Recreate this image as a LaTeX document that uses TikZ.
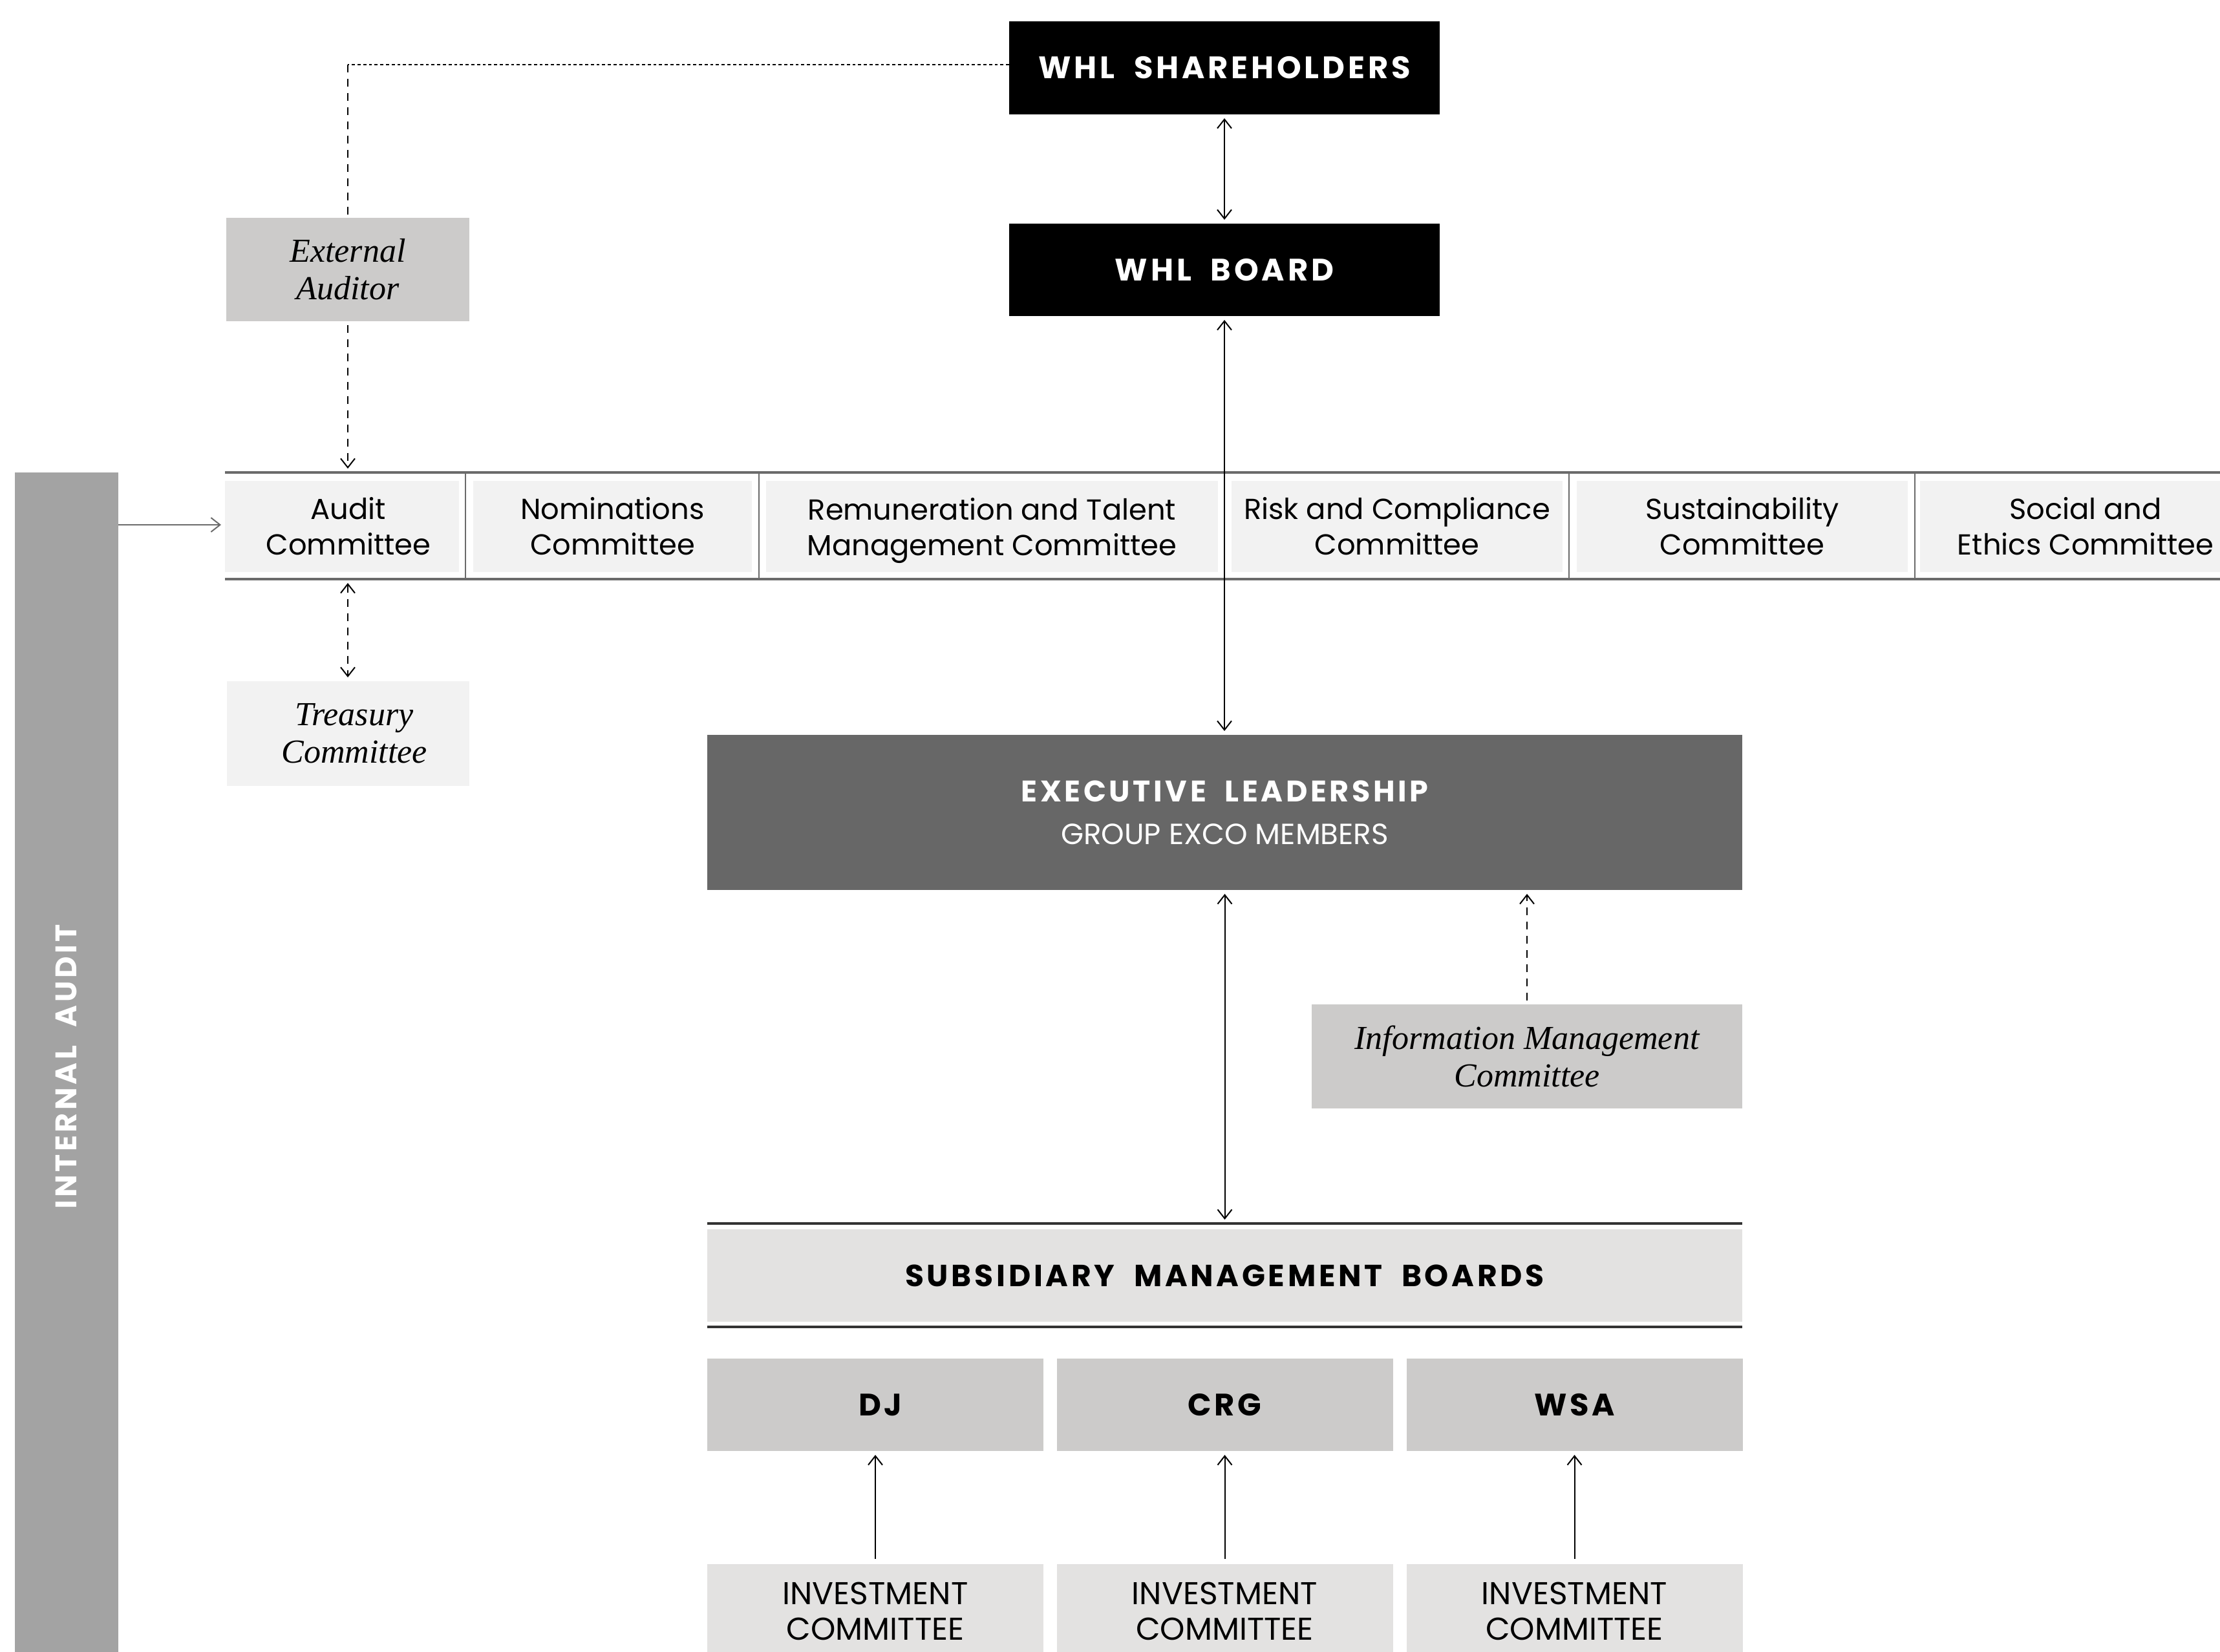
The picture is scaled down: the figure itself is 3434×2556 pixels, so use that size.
\documentclass[tikz,border=0pt]{standalone}
\usepackage{fontspec}
\setmainfont{Poppins}
\newfontfamily\hfont[LetterSpace=10,WordSpace=2]{Poppins}
\newfontfamily\serifit{Liberation Serif}
\usetikzlibrary{arrows.meta}
\definecolor{cExec}{HTML}{676767}
\definecolor{cIA}{HTML}{A3A3A3}
\definecolor{cMid}{HTML}{CCCBCA}
\definecolor{cLight}{HTML}{F2F2F2}
\definecolor{cBand}{HTML}{E3E2E1}
\definecolor{cLine}{HTML}{6B6B6B}
\newcommand\hdtxt{\hfont\bfseries\fontsize{12}{14}\selectfont}
\newcommand\cmtxt{\fontsize{11.2}{13.75}\selectfont}
\newcommand\ittxt{\serifit\itshape\fontsize{13}{14.5}\selectfont}
\newcommand\invtxt{\fontsize{12.2}{13.7}\selectfont}
\newcommand\iatxt{\hfont\bfseries\fontsize{11.5}{13}\selectfont}
\newcommand\nodesc[1]{\raisebox{0pt}[\height][0pt]{#1}}
\begin{document}
\begin{tikzpicture}[x=0.25pt,y=-0.25pt,
  every node/.style={inner sep=0pt, outer sep=0pt, align=center},
  >={Straight Barb[length=3.5pt,width=5.5pt]},
  blk/.style={fill=black, text=white, font=\hdtxt},
  midbox/.style={fill=cMid},
  lightbox/.style={fill=cLight},
  cmbox/.style={fill=cLight, font=\cmtxt, minimum height=35.25pt},
  subbox/.style={fill=cMid, font=\hdtxt, minimum width=130pt, minimum height=35.75pt},
  invbox/.style={fill=cBand, font=\invtxt, minimum width=130pt, minimum height=36.5pt},
  conn/.style={draw=black, line width=0.5pt, shorten >=1.5pt, shorten <=1.5pt},
  dashconn/.style={conn, dash pattern=on 3pt off 2.5pt},
  dotconn/.style={draw=black, line width=0.5pt, dash pattern=on 1.2pt off 1pt},
  bandline/.style={draw=cLine, line width=0.9pt},
  divider/.style={draw=cLine, line width=0.45pt}
]
\clip (0,0) rectangle (3434,2556);
\fill[white] (0,0) rectangle (3434,2556);

% top
\node[blk, minimum width=166.5pt, minimum height=36pt] (sh) at (1894,105) {WHL SHAREHOLDERS};
\node[blk, minimum width=166.5pt, minimum height=35.75pt] (board) at (1894,417.5) {WHL BOARD};
\node[midbox, font=\ittxt, minimum width=94pt, minimum height=40pt] (ext) at (538,417) {External\\Auditor};
\coordinate (corner) at (538,100);

% committee band
\node[minimum width=783pt, minimum height=41.25pt] (band) at (1914,813.5) {};
\draw[bandline] (band.north west) -- (band.north east);
\draw[bandline] (band.south west) -- (band.south east);
\node[cmbox, minimum width=90.5pt] (audit) at (529,814.5) {\hspace*{5pt}Audit\\\hspace*{5pt}Committee};
\node[cmbox, minimum width=107.75pt] (nom) at (947.5,814.5) {Nominations\\Committee};
\node[cmbox, minimum width=174.75pt] (rem) at (1534.5,814.5) {Remuneration and Talent\\\nodesc{Management Committee}};
\node[cmbox, minimum width=128pt] (risk) at (2161,814.5) {Risk and Compliance\\Committee};
\node[cmbox, minimum width=128pt] (sus) at (2695,814.5) {Sustainability\\Committee};
\node[cmbox, minimum width=128pt] (soc) at (3226,814.5) {Social and\\Ethics Committee};
\foreach \xx in {720,1174,2427,2962} \draw[divider] (\xx,731) -- (\xx,896);

\node[lightbox, font=\ittxt, minimum width=93.75pt, minimum height=40.5pt] (tre) at (538,1135) {\hspace*{5pt}Treasury\\\hspace*{5pt}Committee};

% internal audit
\node[fill=cIA, minimum width=40pt, minimum height=459.75pt] (ia) at (103,1650.5) {};
\node[rotate=90, text=white, font=\iatxt] (iat) at (ia.center) {INTERNAL AUDIT};

% executive
\node[fill=cExec, text=white, minimum width=400.25pt, minimum height=60pt] (exec) at (1894.5,1257)
  {{\hfont\bfseries\fontsize{11.5}{14}\selectfont EXECUTIVE LEADERSHIP}\\[4.5pt]{\fontsize{11.3}{14}\selectfont GROUP EXCO MEMBERS}};
\node[midbox, font=\ittxt, minimum width=166.5pt, minimum height=40.25pt] (info) at (2362,1634.5) {Information Management\\Committee};

% subsidiaries
\node[minimum width=400.25pt, minimum height=40pt] (sband) at (1894.5,1973) {};
\draw[draw=black!80, line width=0.8pt] (sband.north west) -- (sband.north east);
\draw[draw=black!80, line width=0.8pt] (sband.south west) -- (sband.south east);
\node[fill=cBand, font={\hfont\bfseries\fontsize{11.8}{14}\selectfont}, minimum width=400.25pt, minimum height=35.75pt] (subs) at (1894.5,1973.5) {SUBSIDIARY MANAGEMENT BOARDS};
\node[subbox] (dj) at (1354,2173.5) {\hspace*{4pt}DJ};
\node[subbox] (crg) at (1894.5,2173.5) {CRG};
\node[subbox] (wsa) at (2435.5,2173.5) {WSA};
\node[invbox] (inv1) at (1354,2493) {INVESTMENT\\COMMITTEE};
\node[invbox] (inv2) at (1894.5,2493) {INVESTMENT\\COMMITTEE};
\node[invbox] (inv3) at (2435.5,2493) {INVESTMENT\\COMMITTEE};

% connectors
\draw[conn, <->] (sh.south) -- (board.north);
\draw[conn, <->] (board.south) -- (board.south |- exec.north);
\draw[dotconn] (sh.west |- corner) -- (corner);
\draw[draw=black, line width=0.5pt, dash pattern=on 3pt off 2.5pt] (corner) -- (ext.north);
\draw[dashconn, ->] (ext.south) -- (ext.south |- band.north);
\draw[dashconn, <->] (tre.north |- band.south) -- (tre.north);
\draw[conn, draw=cLine, shorten <=0pt, ->] (ia.east |- 0,812) -- (audit.west |- 0,812);
\draw[conn, <->] (exec.south) -- (sband.north);
\draw[dashconn, ->] (info.north) -- (info.north |- exec.south);
\draw[conn, shorten <=2pt, ->] (inv1.north) -- (dj.south);
\draw[conn, shorten <=2pt, ->] (inv2.north) -- (crg.south);
\draw[conn, shorten <=2pt, ->] (inv3.north) -- (wsa.south);
\end{tikzpicture}
\end{document}
